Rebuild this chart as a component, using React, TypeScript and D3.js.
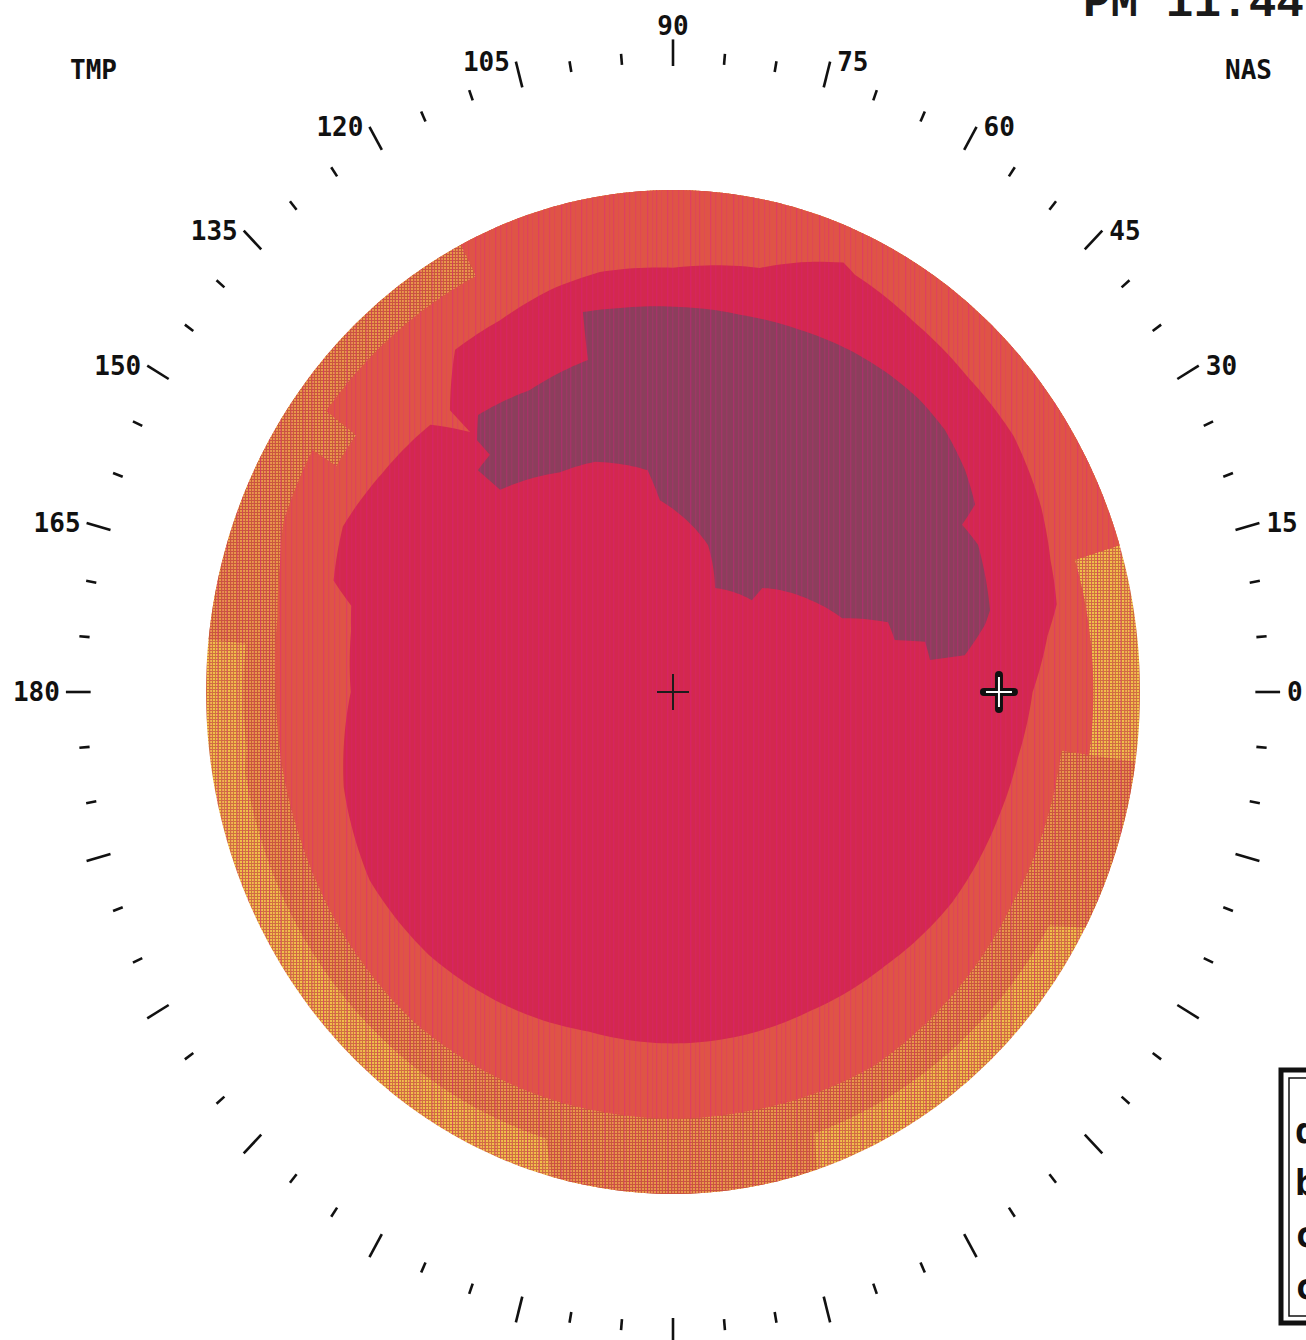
import React from 'react';
import * as d3 from 'd3';

const WIDTH = 1306;
const HEIGHT = 1340;

// Meridian scale: a tick every 5°, long tick every 15°, labels on the upper half
const meridianTicks = d3.range(0, 360, 5);
const labeledMeridians = [0, 15, 30, 45, 60, 75, 90, 105, 120, 135, 150, 165, 180];
const temporalLabel = 'TMP';
const nasalLabel = 'NAS';
const stampText = 'PM 11:44';
const legendRows = ['dB', 'bB', 'cB', 'cB'];

// Zone outlines as [meridian (deg), eccentricity (% of field radius)]
const zoneField = [[0, 100], [90, 100], [180, 100], [270, 100], [360, 100]];

const zoneOrange = [
  [0, 90], [17, 90], [17, 100], [174, 100], [174, 92], [187, 92], [190, 93],
  [253, 93], [255, 100], [288, 100], [289, 93], [330, 93], [332, 100],
  [352, 100], [352, 90], [360, 90],
];

const zoneSalmon = [
  [0, 90], [17, 90], [17, 100], [117, 100], [117, 93], [140, 93], [143, 93],
  [143, 85], [148, 85], [148, 91], [158, 90], [163, 88], [170, 86], [180, 85],
  [200, 85], [230, 86], [260, 85], [280, 85], [300, 86], [330, 84], [352, 84],
  [352, 90], [360, 90],
];

const zoneCrimson = [
  [0, 77], [8, 81], [12, 84], [18, 85], [25, 87], [35, 89], [45, 89], [55, 90],
  [64.9, 91.8], [66.9, 93], [71.4, 90.4], [77.6, 86.5], [90, 84.5],
  [100.6, 85.1], [108.2, 84.3], [116.5, 82.8], [124.4, 82.6], [130.4, 73.7],
  [130, 67.6], [134.3, 74.4], [145, 76], [155, 78], [163, 76], [166, 71],
  [170, 70], [180, 69], [195, 73], [210, 75], [225, 74], [240, 72], [255, 70],
  [270, 70], [280, 70], [295, 70], [310, 71], [325, 73], [340, 74], [350, 75],
];

const zoneDeep = [
  [104.3, 78.1], [98.4, 77.3], [88.9, 76.7], [79.2, 76.5], [69.3, 77.1],
  [60.9, 77.9], [53.6, 78.4], [47.7, 78.6], [41.9, 78.2], [35.3, 76.6],
  [30.0, 74.7], [28.3, 70.3], [24.2, 71.6], [13.5, 69.8], [11.3, 68.1],
  [6.7, 62.9], [6.6, 55.4], [10.5, 54.9], [12.3, 48.6], [16.8, 48.1],
  [22.1, 39.1], [32.0, 34.6], [47.3, 28.2], [47.3, 24.9], [66.5, 22.6],
  [75.6, 30.2], [94.2, 38.3], [97.0, 44.5], [110.0, 48.8], [118.9, 50.0],
  [132.6, 54.7], [133.4, 60.8], [129.7, 61.4], [129.9, 65.4], [127.1, 69.2],
  [117.0, 67.5], [105.4, 68.6],
];

const fixationPoint = [0, 0];
const blindSpotPoint = [0, 69.8];

// Layout of the plot
const CX = 673;
const CY = 692;
const RX = 467;
const RY = 502;

const xScale = d3.scaleLinear().domain([-100, 100]).range([CX - RX, CX + RX]);
const yScale = d3.scaleLinear().domain([-100, 100]).range([CY + RY, CY - RY]);

const px = (deg: number, ecc: number) => xScale(ecc * Math.cos((deg * Math.PI) / 180));
const py = (deg: number, ecc: number) => yScale(ecc * Math.sin((deg * Math.PI) / 180));

// Walk each outline in polar space so equal-eccentricity runs become arcs
function densify(pts: number[][]) {
  const out: number[][] = [];
  for (let i = 0; i < pts.length; i++) {
    const [a0, r0] = pts[i];
    const [a1, r1] = pts[(i + 1) % pts.length];
    let da = a1 - a0;
    if (da < -180) da += 360;
    if (da > 180) da -= 360;
    const n = Math.max(1, Math.ceil(Math.abs(da)));
    for (let k = 0; k < n; k++) {
      out.push([a0 + (da * k) / n, r0 + ((r1 - r0) * k) / n]);
    }
  }
  return out;
}

const zonePath = d3
  .line<number[]>()
  .x((d) => px(d[0], d[1]))
  .y((d) => py(d[0], d[1]))
  .curve(d3.curveLinearClosed);

const stripeOffsets = [2, 7, 11, 16, 22, 27, 33, 38];
const stripeOpacity = [0.35, 0.2, 0.3, 0.15, 0.35, 0.22, 0.28, 0.18];

export default function App() {
  const fieldD = zonePath(densify(zoneField)) || '';
  const fontLabel = "'DejaVu Sans Mono', monospace";
  const fx = px(fixationPoint[0], fixationPoint[1]);
  const fy = py(fixationPoint[0], fixationPoint[1]);
  const bx = px(blindSpotPoint[0], blindSpotPoint[1]);
  const by = py(blindSpotPoint[0], blindSpotPoint[1]);

  return (
    <svg
      width={WIDTH}
      height={HEIGHT}
      viewBox={`0 0 ${WIDTH} ${HEIGHT}`}
      style={{ position: 'absolute', left: 0, top: 0, background: '#ffffff' }}
    >
      <defs>
        <pattern id="meshYellow" width={3} height={3} patternUnits="userSpaceOnUse">
          <rect width={3} height={3} fill="#d0703f" />
          <rect width={2} height={2} fill="#f0c04a" />
        </pattern>
        <pattern id="meshOrange" width={3} height={3} patternUnits="userSpaceOnUse">
          <rect width={3} height={3} fill="#c9573c" />
          <rect width={2} height={2} fill="#e8984a" />
        </pattern>
        <pattern id="stripes" width={43} height={8} patternUnits="userSpaceOnUse">
          {stripeOffsets.map((o, i) => (
            <rect key={i} x={o} y={0} width={1.3} height={8} fill="#e0188c" opacity={stripeOpacity[i]} />
          ))}
        </pattern>
        <clipPath id="fieldClip">
          <path d={fieldD} />
        </clipPath>
      </defs>

      {/* sensitivity zones, outermost first */}
      <path d={fieldD} fill="url(#meshYellow)" />
      <path d={zonePath(densify(zoneOrange)) || ''} fill="url(#meshOrange)" />
      <path d={zonePath(densify(zoneSalmon)) || ''} fill="#df5446" />
      <path d={zonePath(densify(zoneCrimson)) || ''} fill="#d3284f" />
      <path d={zonePath(densify(zoneDeep)) || ''} fill="#8c3e5c" />
      <rect
        x={CX - RX}
        y={CY - RY}
        width={2 * RX}
        height={2 * RY}
        fill="url(#stripes)"
        clipPath="url(#fieldClip)"
      />

      {/* fixation */}
      <g stroke="#1c1c1c" strokeWidth={2}>
        <line x1={fx - 16} x2={fx + 16} y1={fy} y2={fy} />
        <line x1={fx} x2={fx} y1={fy - 18} y2={fy + 18} />
      </g>

      {/* blind spot */}
      <g>
        <g stroke="#111" strokeWidth={8} strokeLinecap="round">
          <line x1={bx - 15} x2={bx + 15} y1={by} y2={by} />
          <line x1={bx} x2={bx} y1={by - 17} y2={by + 17} />
        </g>
        <g stroke="#fff" strokeWidth={2}>
          <line x1={bx - 13} x2={bx + 13} y1={by} y2={by} />
          <line x1={bx} x2={bx} y1={by - 15} y2={by + 15} />
        </g>
      </g>

      {/* meridian ticks */}
      <g stroke="#111" strokeWidth={2.6}>
        {meridianTicks.map((a) => {
          const long = a % 15 === 0;
          const r0 = long ? 124.7 : 125.4;
          const r1 = long ? 130 : 127.6;
          return <line key={a} x1={px(a, r0)} y1={py(a, r0)} x2={px(a, r1)} y2={py(a, r1)} />;
        })}
      </g>

      {/* meridian labels */}
      <g fontFamily={fontLabel} fontWeight="bold" fontSize={26} fill="#111">
        {labeledMeridians.map((a) => {
          const ox = px(a, 130);
          const oy = py(a, 130);
          if (a === 90) {
            return (
              <text key={a} x={ox} y={oy - 4} textAnchor="middle">
                {a}
              </text>
            );
          }
          const right = a < 90;
          return (
            <text key={a} x={ox + (right ? 7 : -6)} y={oy + 9} textAnchor={right ? 'start' : 'end'}>
              {a}
            </text>
          );
        })}
      </g>

      <g fontFamily={fontLabel} fontWeight="bold" fontSize={26} fill="#111">
        <text x={70} y={79}>{temporalLabel}</text>
        <text x={1225} y={79}>{nasalLabel}</text>
      </g>

      <text x={1083} y={16} fontFamily="'Liberation Mono', monospace" fontWeight="bold" fontSize={46} fill="#1a1a1a">
        {stampText}
      </text>

      {/* legend frame */}
      <rect x={1281} y={1070} width={60} height={253} fill="none" stroke="#111" strokeWidth={5} />
      <rect x={1289} y={1078} width={50} height={238} fill="none" stroke="#111" strokeWidth={1.5} />
      <g fontFamily={fontLabel} fontWeight="bold" fontSize={36} fill="#111">
        {legendRows.map((t, i) => (
          <text key={i} x={1295} y={1143 + i * 52}>
            {t}
          </text>
        ))}
      </g>
    </svg>
  );
}
